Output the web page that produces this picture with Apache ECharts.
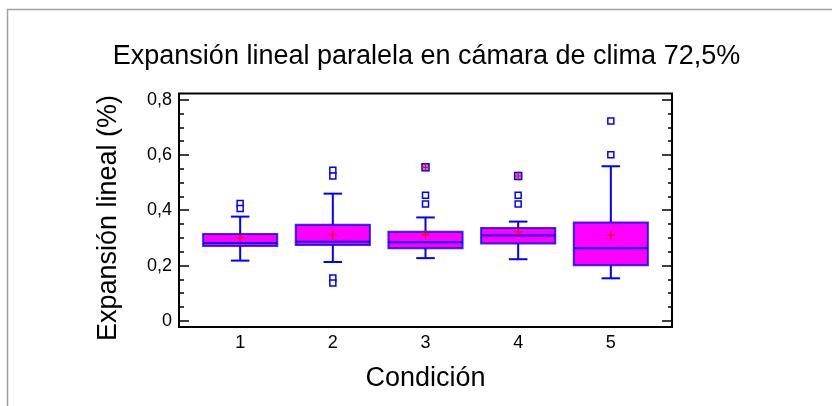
<!DOCTYPE html>
<html>
<head>
<meta charset="utf-8">
<script src="https://cdn.jsdelivr.net/npm/echarts@6/dist/echarts.min.js"></script>
<style>
  html, body { margin: 0; padding: 0; background: #fff; }
  #chart { width: 832px; height: 406px; }
</style>
</head>
<body>
<div id="chart"></div>
<script>
// Expansión lineal por condición: cajas y bigotes
const categories = ['1', '2', '3', '4', '5'];
const lowerWhisker = [0.218, 0.213, 0.227, 0.223, 0.154];
const q1 = [0.271, 0.274, 0.263, 0.280, 0.201];
const median = [0.282, 0.286, 0.284, 0.309, 0.263];
const q3 = [0.314, 0.348, 0.322, 0.336, 0.356];
const upperWhisker = [0.377, 0.460, 0.374, 0.359, 0.559];
const means = [0.300, 0.309, 0.311, 0.322, 0.309];
// puntos atípicos [condición, valor]
const outliers = [
  [1, 0.424], [1, 0.406],
  [2, 0.545], [2, 0.524], [2, 0.155], [2, 0.137],
  [3, 0.454], [3, 0.423],
  [4, 0.454], [4, 0.423],
  [5, 0.723], [5, 0.601]
];
const farOutliers = [[3, 0.555], [4, 0.524]];
const yMajorTicks = [0, 0.2, 0.4, 0.6, 0.8];
const yMinorTicks = [0.05, 0.1, 0.15, 0.25, 0.3, 0.35, 0.45, 0.5, 0.55, 0.65, 0.7, 0.75];

const FONT = '"Liberation Sans", Arial, sans-serif';
const BLUE = '#0000ff';
const BOX_HALF = 0.4;
const CAP_HALF = 0.1;
const Y_MIN = -0.022, Y_MAX = 0.822;

const boxData = categories.map((c, i) => [
  i + 1, lowerWhisker[i], q1[i], median[i], q3[i], upperWhisker[i]
]);
const meanData = categories.map((c, i) => [i + 1, means[i]]);

const plusSymbol = 'path://M3.5,0h1v3.5h3.5v1h-3.5v3.5h-1v-3.5h-3.5v-1h3.5z';

function renderBox(params, api) {
  const x = api.value(0);
  const lo = api.coord([x, api.value(1)]);
  const b1 = api.coord([x, api.value(2)]);
  const md = api.coord([x, api.value(3)]);
  const b3 = api.coord([x, api.value(4)]);
  const hi = api.coord([x, api.value(5)]);
  const xl = api.coord([x - BOX_HALF, 0])[0];
  const xr = api.coord([x + BOX_HALF, 0])[0];
  const cl = api.coord([x - CAP_HALF, 0])[0];
  const cr = api.coord([x + CAP_HALF, 0])[0];
  const line = { stroke: BLUE, lineWidth: 2 };
  return {
    type: 'group',
    children: [
      { type: 'line', shape: { x1: lo[0], y1: lo[1], x2: b1[0], y2: b1[1] }, style: line },
      { type: 'line', shape: { x1: cl, y1: lo[1], x2: cr, y2: lo[1] }, style: line },
      { type: 'line', shape: { x1: hi[0], y1: hi[1], x2: b3[0], y2: b3[1] }, style: line },
      { type: 'line', shape: { x1: cl, y1: hi[1], x2: cr, y2: hi[1] }, style: line },
      {
        type: 'rect',
        shape: { x: xl, y: b3[1], width: xr - xl, height: b1[1] - b3[1] },
        style: { fill: '#ff00ff', stroke: 'rgba(0,0,255,0.8)', lineWidth: 2 }
      },
      { type: 'line', shape: { x1: xl, y1: md[1], x2: xr, y2: md[1] }, style: line }
    ]
  };
}

function yAxisDef(position, ticks, len, withLabels) {
  return {
    type: 'value',
    position: position,
    min: Y_MIN,
    max: Y_MAX,
    axisLine: { show: false },
    splitLine: { show: false },
    axisTick: {
      show: true, inside: true, length: len, customValues: ticks,
      lineStyle: { color: '#000', width: 1.5 }
    },
    axisLabel: withLabels ? {
      show: true, customValues: yMajorTicks, margin: 7,
      color: '#000', fontFamily: FONT, fontSize: 18,
      formatter: v => v.toFixed(1).replace('.', ',').replace(/^0,0$/, '0')
    } : { show: false }
  };
}

const chart = echarts.init(document.getElementById('chart'), null, { renderer: 'canvas' });
chart.setOption({
  backgroundColor: '#fff',
  animation: false,
  grid: {
    left: 179, right: 160, top: 93.5, bottom: 79,
    show: true, borderColor: '#000', borderWidth: 2, backgroundColor: 'transparent'
  },
  xAxis: {
    type: 'value',
    min: 0.34, max: 5.66,
    axisLine: { show: false },
    axisTick: { show: false },
    splitLine: { show: false },
    axisLabel: {
      customValues: [1, 2, 3, 4, 5], margin: 7,
      color: '#000', fontFamily: FONT, fontSize: 18,
      formatter: v => categories[Math.round(v) - 1]
    },
    name: 'Condición',
    nameLocation: 'middle',
    nameGap: 38,
    nameTextStyle: { color: '#000', fontFamily: FONT, fontSize: 27 }
  },
  yAxis: [
    yAxisDef('left', yMajorTicks, 10, true),
    yAxisDef('left', yMinorTicks, 5, false),
    yAxisDef('right', yMajorTicks, 10, false),
    yAxisDef('right', yMinorTicks, 4, false)
  ],
  graphic: [
    {
      type: 'polyline', silent: true,
      shape: { points: [[7.5, 406], [7.5, 9.5], [832, 9.5]] },
      style: { stroke: '#a0a0a0', lineWidth: 1.5, fill: null }
    },
    {
      type: 'text', x: 426.5, y: 57,
      style: {
        text: 'Expansión lineal paralela en cámara de clima 72,5%',
        fill: '#000', font: '27px ' + FONT,
        textAlign: 'center', textVerticalAlign: 'middle'
      }
    },
    {
      type: 'text', x: 109, y: 218, rotation: Math.PI / 2,
      style: {
        text: 'Expansión lineal (%)',
        fill: '#000', font: '27px ' + FONT,
        textAlign: 'center', textVerticalAlign: 'middle'
      }
    }
  ],
  series: [
    {
      type: 'custom',
      name: 'caja',
      renderItem: renderBox,
      encode: { x: 0, y: [1, 2, 3, 4, 5] },
      data: boxData,
      z: 2
    },
    {
      type: 'scatter',
      name: 'atípicos',
      data: outliers,
      symbol: 'rect',
      symbolSize: 6,
      itemStyle: { color: '#fff', borderColor: BLUE, borderWidth: 1.5, opacity: 1 },
      z: 3
    },
    {
      type: 'scatter',
      name: 'atípicos lejanos',
      data: farOutliers,
      symbol: 'rect',
      symbolSize: 7,
      itemStyle: { color: '#9b8cff', borderColor: BLUE, borderWidth: 1.5, opacity: 1 },
      z: 3
    },
    {
      type: 'scatter',
      name: 'media',
      data: meanData.concat(farOutliers),
      symbol: plusSymbol,
      symbolSize: 9,
      itemStyle: { color: '#ff0000', opacity: 1 },
      z: 4
    }
  ]
});
</script>
</body>
</html>
